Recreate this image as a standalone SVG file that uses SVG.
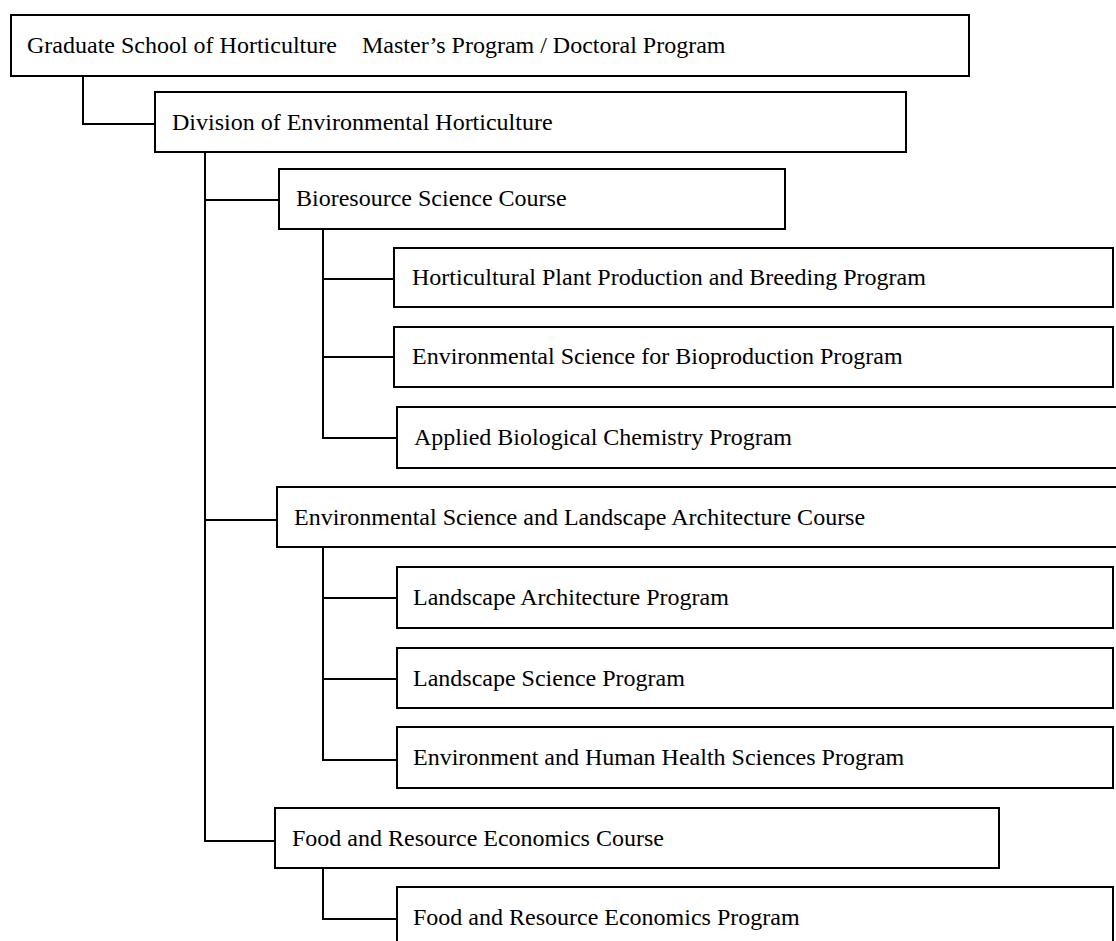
<svg xmlns="http://www.w3.org/2000/svg" width="1116" height="941" viewBox="0 0 1116 941">
<style>
.box{fill:#fff;stroke:#000;stroke-width:2}
.lbl{font-family:"Liberation Serif","Times New Roman",serif;font-size:24px;fill:#000}
.con{fill:none;stroke:#000;stroke-width:2}
</style>
<rect width="1116" height="941" fill="#fff"/>
<g id="connectors">
<path class="con" d="M83,76 V124 H155"/>
<path class="con" d="M205,152 V841 H275 M205,200 H279 M205,520 H277"/>
<path class="con" d="M323,229 V438 H397 M323,279 H394 M323,357 H394"/>
<path class="con" d="M323,547 V760 H397 M323,598 H397 M323,679 H397"/>
<path class="con" d="M323,868 V919 H397"/>
</g>
<g id="n1"><rect class="box" x="11" y="15" width="958" height="61"/><text class="lbl" x="27" y="53">Graduate School of Horticulture<tspan x="362">Master’s Program / Doctoral Program</tspan></text></g>
<g id="n2"><rect class="box" x="155" y="92" width="751" height="60"/><text class="lbl" x="172" y="130">Division of Environmental Horticulture</text></g>
<g id="n3"><rect class="box" x="279" y="169" width="506" height="60"/><text class="lbl" x="296" y="206">Bioresource Science Course</text></g>
<g id="n4"><rect class="box" x="394" y="248" width="719" height="59"/><text class="lbl" x="412" y="285">Horticultural Plant Production and Breeding Program</text></g>
<g id="n5"><rect class="box" x="394" y="327" width="719" height="60"/><text class="lbl" x="412" y="364">Environmental Science for Bioproduction Program</text></g>
<g id="n6"><rect class="box" x="397" y="407" width="730" height="61"/><text class="lbl" x="414" y="445">Applied Biological Chemistry Program</text></g>
<g id="n7"><rect class="box" x="277" y="487" width="850" height="60"/><text class="lbl" x="294" y="525">Environmental Science and Landscape Architecture Course</text></g>
<g id="n8"><rect class="box" x="397" y="567" width="716" height="61"/><text class="lbl" x="413" y="605">Landscape Architecture Program</text></g>
<g id="n9"><rect class="box" x="397" y="648" width="716" height="60"/><text class="lbl" x="413" y="686">Landscape Science Program</text></g>
<g id="n10"><rect class="box" x="397" y="727" width="716" height="61"/><text class="lbl" x="413" y="765">Environment and Human Health Sciences Program</text></g>
<g id="n11"><rect class="box" x="275" y="808" width="724" height="60"/><text class="lbl" x="292" y="846">Food and Resource Economics Course</text></g>
<g id="n12"><rect class="box" x="397" y="887" width="716" height="60"/><text class="lbl" x="413" y="925">Food and Resource Economics Program</text></g>
</svg>
